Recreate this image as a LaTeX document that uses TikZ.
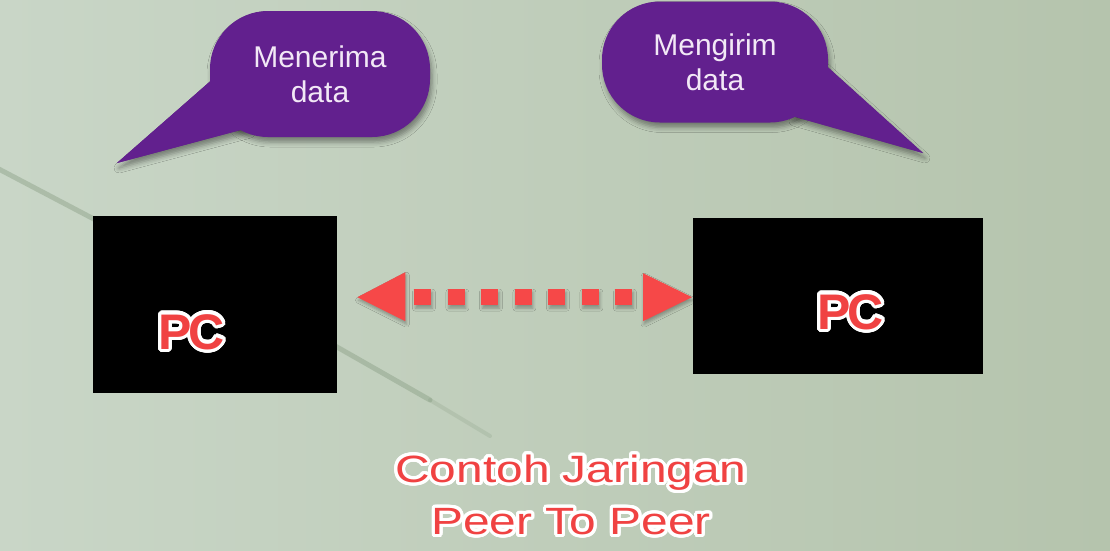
\documentclass[tikz,border=0pt]{standalone}
\usepackage{fontspec}
\setmainfont{Liberation Sans}
\usepackage{graphicx}
\usepackage{contour}
\usetikzlibrary{shadows.blur}
\definecolor{bgL}{RGB}{201,214,199}
\definecolor{bgR}{RGB}{181,196,173}
\definecolor{bub}{RGB}{98,32,142}
\definecolor{bubtxt}{RGB}{242,232,246}
\definecolor{pcred}{RGB}{240,66,66}
\definecolor{arr}{RGB}{246,72,72}
\definecolor{streak}{RGB}{130,152,125}
\contourlength{3.2pt}
\contournumber{32}
\tikzset{
  bubble/.style={fill=bub, rounded corners=58pt, inner sep=0pt, text=bubtxt,
    font=\fontsize{30}{35}\selectfont, align=center},
  pcbox/.style={fill=black, inner sep=0pt, anchor=north west},
  bshadow/.style={blur shadow={shadow xshift=2pt, shadow yshift=-5pt,
    shadow blur radius=5pt, shadow opacity=40}},
  ashadow/.style={blur shadow={shadow xshift=1pt, shadow yshift=-3pt,
    shadow blur radius=3pt, shadow opacity=30}},
  redtext/.style={text=pcred, inner sep=0pt},
  arrowpart/.style={fill=arr, ashadow}
}
\begin{document}
\begin{tikzpicture}[x=1pt,y=-1pt]
\useasboundingbox (0,0) rectangle (1110,550);
\shade[left color=bgL, right color=bgR] (0,0) rectangle (1110,550);
% diagonal streak in the background
\draw[streak, line width=5pt, opacity=0.4, line cap=round, line join=round] (-5,167) -- (337,347) -- (430,400);
\draw[streak, line width=4pt, opacity=0.22, line cap=round] (430,400) -- (490,436);

% left speech bubble
\fill[bub, bshadow] (117,163) -- (214,78) -- (248,128) -- cycle;
\node[bubble, bshadow, minimum width=220pt, minimum height=126pt] (b1) at (320,74) {Menerima\\data};
\fill[bub] (117,163) -- (214,78) -- (248,128) -- cycle;

% right speech bubble
\fill[bub, bshadow] (923,153) -- (822,62) -- (792,116) -- cycle;
\node[bubble, bshadow, minimum width=226pt, minimum height=121pt] (b2) at (715,62) {Mengirim\\data};
\fill[bub] (923,153) -- (822,62) -- (792,116) -- cycle;

% PC boxes
\node[pcbox, minimum width=244pt, minimum height=177pt] (pc1) at (93,216) {};
\node[pcbox, minimum width=290pt, minimum height=156pt] (pc2) at (693,218) {};
\node[redtext, font=\fontsize{50}{50}\selectfont\bfseries] (l1) at (191.5,333.5) {\contour{white}{P\kern-3pt C}};
\node[redtext, font=\fontsize{50}{50}\selectfont\bfseries] (l2) at (850.5,313.5) {\contour{white}{P\kern-3pt C}};

% dotted double arrow between the PCs
\coordinate (al) at ([xshift=20pt,yshift=7.5pt]pc1.east);
\coordinate (ar) at ([xshift=-1pt,yshift=-1pt]pc2.west);
\fill[arrowpart] (al) -- ++(48,-25) -- ++(0,49) -- cycle;
\fill[arrowpart] (ar) -- ++(-49,-24) -- ++(0,48) -- cycle;
\foreach \i in {0,...,6}
  \fill[arrowpart] ([xshift=57pt+\i*33.5pt,yshift=8pt]al) rectangle ++(17,16);

% title
\node[redtext, font=\fontsize{38}{52}\selectfont, align=center] (title) at (571,496.5)
  {\contour{white}{\scalebox{1.26}[1]{Contoh Jaringan}}\\
   \contour{white}{\scalebox{1.26}[1]{Peer To Peer}}};
\end{tikzpicture}
\end{document}
